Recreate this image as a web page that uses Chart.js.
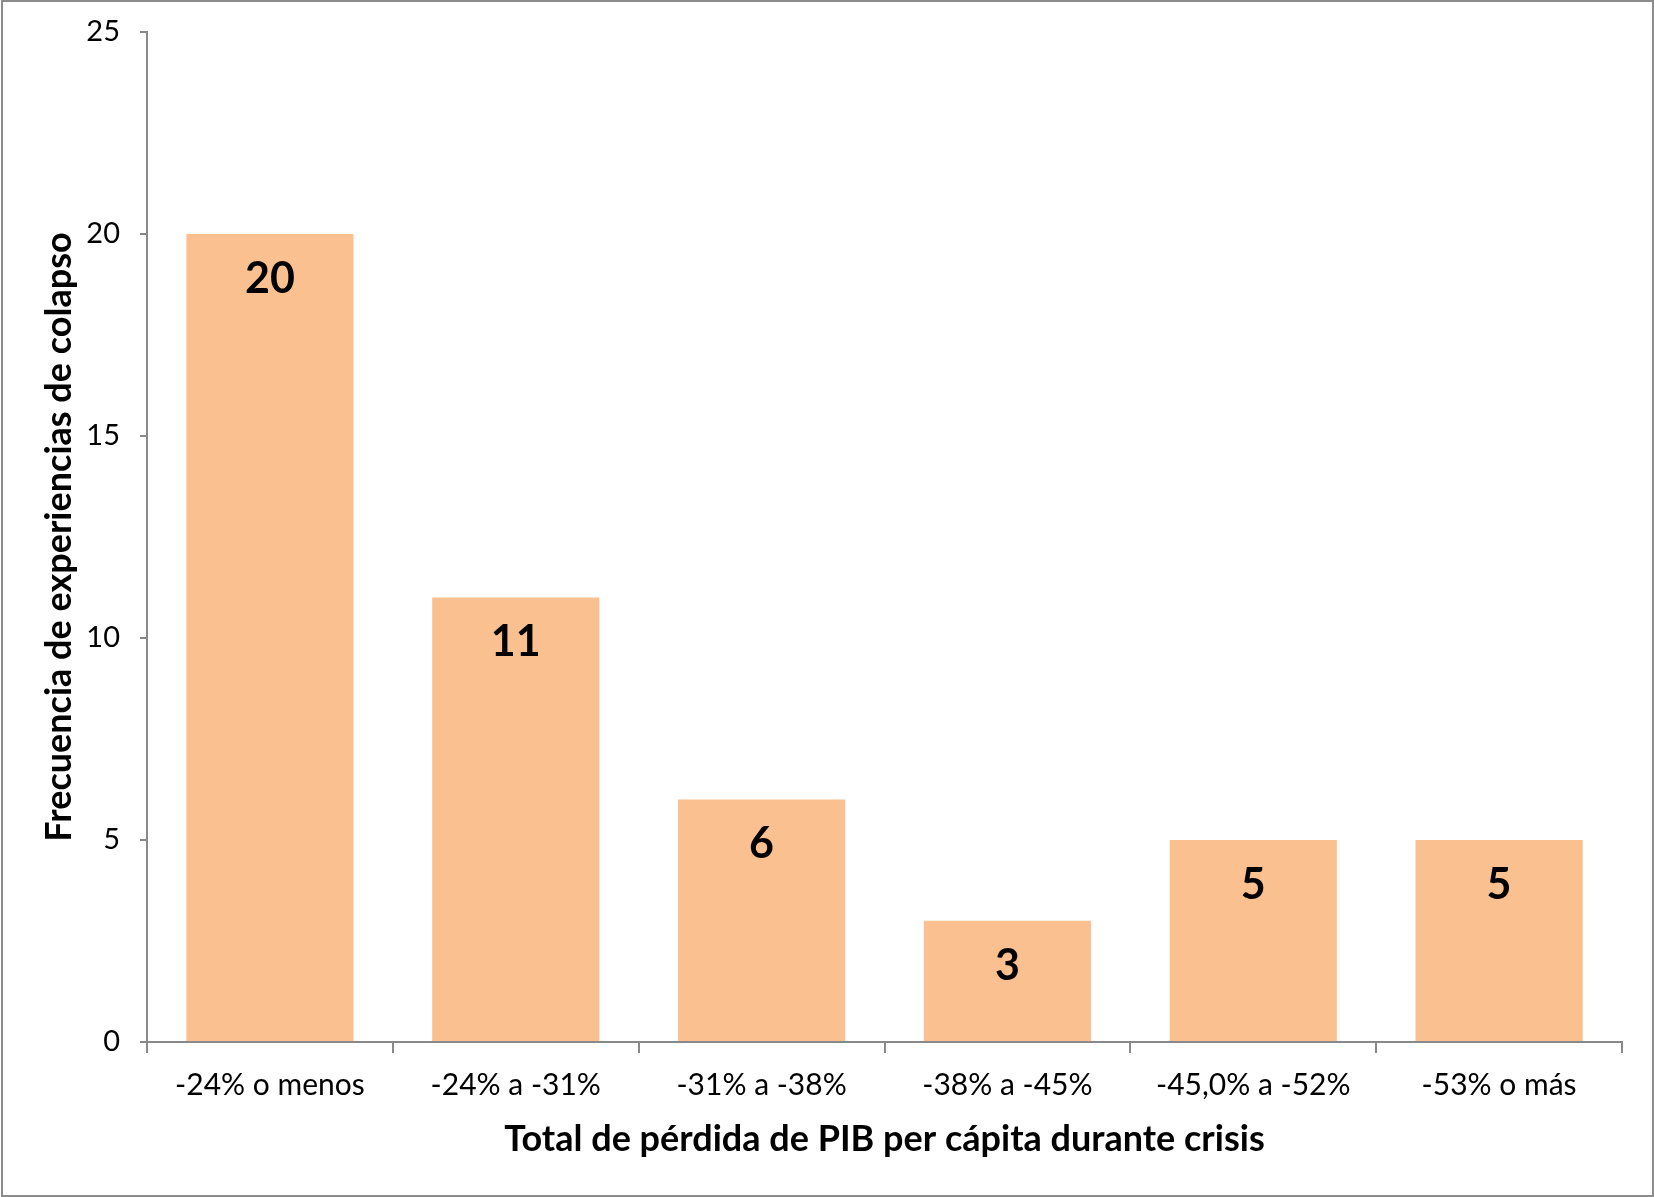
<!DOCTYPE html>
<html>
<head>
    <meta charset="utf-8">
    <title>Frecuencia de experiencias de colapso</title>
    <script src="https://cdn.jsdelivr.net/npm/chart.js@4.4.1/dist/chart.umd.min.js"></script>
    <style>
        html, body { margin: 0; padding: 0; background: #fff; }
        #wrap { width: 1654px; height: 1197px; }
    </style>
</head>
<body>
    <div id="wrap">
        <canvas id="chart" width="1654" height="1197"></canvas>
    </div>
    <script>
        // data
        var categories = ["-24% o menos", "-24% a -31%", "-31% a -38%", "-38% a -45%", "-45,0% a -52%", "-53% o más"];
        var frecuencia = [20, 11, 6, 3, 5, 5];
        var yMin = 0, yMax = 25, yStep = 5;

        var axisGray = "#898989";
        var fontFam = "Lato, 'Noto Sans', sans-serif";

        // white page + thin frame round the whole picture
        var framePlugin = {
            id: 'frame',
            beforeDraw: function (chart) {
                var ctx = chart.ctx;
                ctx.save();
                ctx.fillStyle = "#fff";
                ctx.fillRect(0, 0, chart.width, chart.height);
                ctx.strokeStyle = "#8c8c8c";
                ctx.lineWidth = 2;
                ctx.strokeRect(2, 1, chart.width - 3, chart.height - 2);
                ctx.restore();
            }
        };

        // bold value inside the top of each bar
        var valueLabels = {
            id: 'valueLabels',
            afterDatasetsDraw: function (chart) {
                var ctx = chart.ctx;
                var meta = chart.getDatasetMeta(0);
                ctx.save();
                ctx.font = "bold 43px " + fontFam;
                ctx.fillStyle = "#000";
                ctx.textAlign = "center";
                ctx.textBaseline = "middle";
                meta.data.forEach(function (bar, i) {
                    ctx.fillText(String(frecuencia[i]), bar.x, bar.y + 45);
                });
                ctx.restore();
            }
        };

        new Chart(document.getElementById("chart"), {
            type: 'bar',
            data: {
                labels: categories,
                datasets: [{
                    data: frecuencia,
                    backgroundColor: "#FAC090",
                    borderWidth: 0,
                    categoryPercentage: 0.68,
                    barPercentage: 1.0
                }]
            },
            plugins: [framePlugin, valueLabels],
            options: {
                responsive: false,
                animation: false,
                devicePixelRatio: 1,
                layout: { autoPadding: false, padding: { top: 32, right: 32, left: 0, bottom: 0 } },
                plugins: {
                    legend: { display: false },
                    tooltip: { enabled: false }
                },
                scales: {
                    x: {
                        grid: {
                            display: true,
                            offset: true,
                            drawOnChartArea: false,
                            drawTicks: true,
                            tickLength: 11,
                            color: axisGray,
                            lineWidth: 2
                        },
                        border: { color: axisGray, width: 2 },
                        ticks: {
                            color: "#000",
                            padding: 14,
                            maxRotation: 0,
                            font: { family: fontFam, size: 30 }
                        },
                        title: {
                            display: true,
                            text: "Total de pérdida de PIB per cápita durante crisis",
                            color: "#000",
                            padding: { top: 10, bottom: 36 },
                            font: { family: fontFam, size: 36, weight: 'bold' }
                        },
                        afterFit: function (scale) { scale.height = 1197 - 1042; }
                    },
                    y: {
                        min: yMin,
                        max: yMax,
                        grid: {
                            display: true,
                            drawOnChartArea: false,
                            drawTicks: true,
                            tickLength: 7,
                            color: axisGray,
                            lineWidth: 2
                        },
                        border: { color: axisGray, width: 2 },
                        ticks: {
                            stepSize: yStep,
                            color: "#000",
                            padding: 20,
                            font: { family: fontFam, size: 29 }
                        },
                        title: {
                            display: true,
                            text: "Frecuencia de experiencias de colapso",
                            color: "#000",
                            padding: { top: 38, bottom: 0 },
                            font: { family: fontFam, size: 36, weight: 'bold' }
                        },
                        afterFit: function (scale) {
                            scale.width = 147;
                            // keep the plot top at the layout padding
                            scale.paddingTop = 0;
                            scale.paddingBottom = 0;
                        }
                    }
                }
            }
        });
    </script>
</body>
</html>
